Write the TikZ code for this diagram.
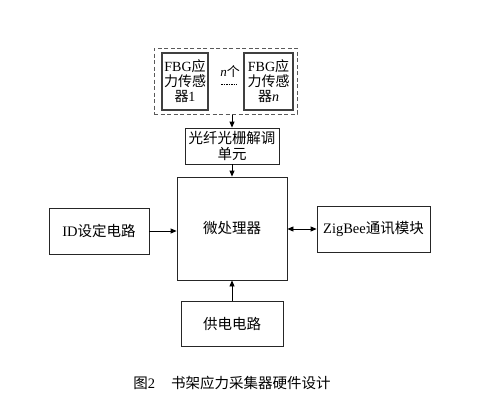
\documentclass[tikz,border=0pt]{standalone}
\usepackage{fontspec}
\setmainfont{Liberation Serif}
\newfontfamily\cjk{Noto Sans CJK SC}
\usetikzlibrary{arrows.meta}
\begin{document}
\begin{tikzpicture}[x=1pt,y=-1pt,
  blk/.style={draw=black!85,line width=0.8pt,align=center,inner sep=0pt,font=\fontsize{14.5}{15.5}\selectfont},
  sens/.style={draw=black!75,line width=1.1pt,align=center,inner sep=0pt,font=\fontsize{14}{15}\selectfont},
  arr/.style={line width=0.8pt,-{Triangle[length=6pt,width=5pt]}},
  darr/.style={line width=0.8pt,{Triangle[length=6pt,width=5pt]}-{Triangle[length=6pt,width=5pt]}}]
\useasboundingbox (0,0) rectangle (491,405);
\node[draw=black!65,dash pattern=on 4pt off 2.5pt,line width=1pt,minimum width=143pt,minimum height=66pt,inner sep=0pt] (grp) at (225.5,81) {};
\node[sens,minimum width=46pt,minimum height=57pt] (s1) at (185,81.5) {FBG{\cjk 应}\\{\cjk 力传感}\\{\cjk 器}1};
\node[sens,minimum width=49pt,minimum height=57pt] (sn) at (268.5,81.5) {FBG{\cjk 应}\\{\cjk 力传感}\\{\cjk 器}\textit{n}};
\node[font=\fontsize{13}{15}\selectfont,inner sep=0pt] (nl) at (230,72) {\textit{n}{\cjk 个}};
\draw[line width=0.7pt,dash pattern=on 1.5pt off 1pt] (221,84) coordinate (d1) -- (237,84) coordinate (d2);
\node[blk,minimum width=94pt,minimum height=36pt] (demod) at (232,146) {{\cjk 光纤光栅解调}\\{\cjk 单元}};
\node[blk,minimum width=110pt,minimum height=103pt] (micro) at (232,228.5) {{\cjk 微处理器}};
\node[blk,minimum width=100pt,minimum height=46pt] (id) at (99,231) {ID{\cjk 设定电路}};
\node[blk,minimum width=113pt,minimum height=46pt] (zig) at (373.5,229) {ZigBee{\cjk 通讯模块}};
\node[blk,minimum width=102pt,minimum height=45pt] (pow) at (232,323.5) {{\cjk 供电电路}};
\node[font=\fontsize{14.5}{15}\selectfont,inner sep=0pt] (cap) at (232,383) {{\cjk 图}2\hspace{1.1em}{\cjk 书架应力采集器硬件设计}};
\draw[arr] (grp.south -| demod.north) -- (demod.north);
\draw[arr] (demod.south) -- (micro.north);
\draw[arr] (id.east) -- (id.east -| micro.west);
\draw[darr] (zig.west -| micro.east) -- (zig.west);
\draw[arr] (pow.north) -- (micro.south);
\end{tikzpicture}
\end{document}
